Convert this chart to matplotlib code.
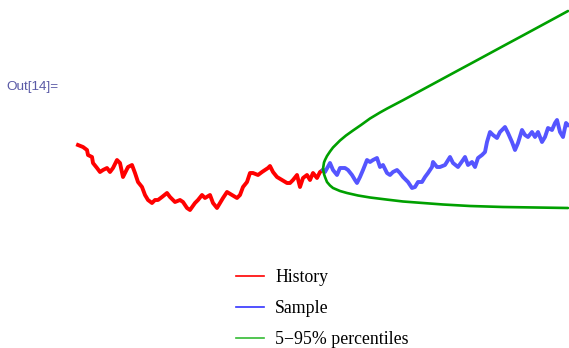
import matplotlib
matplotlib.use("Agg")
import matplotlib.pyplot as plt
from matplotlib.lines import Line2D

# observed path (time, level)
hist_t = [78, 83, 87, 88, 92, 93, 97, 100, 103, 107, 110, 113, 117, 120, 123, 125,
          128, 132, 135, 138, 142, 145, 148, 152, 155, 158, 162, 167, 170, 175, 180,
          183, 187, 190, 195, 198, 202, 205, 210, 213, 217, 220, 223, 227, 232, 237,
          240, 243, 247, 250, 253, 258, 262, 265, 268, 270, 273, 277, 282, 287, 290,
          293, 297, 300, 303, 307, 310, 313, 317, 320, 323]
hist_v = [155, 153, 150, 145, 143, 137, 132, 128, 130, 132, 128, 132, 140, 137, 123, 127,
          133, 135, 127, 118, 113, 105, 100, 97, 100, 100, 103, 107, 103, 98, 100,
          98, 92, 90, 97, 100, 105, 102, 105, 97, 92, 97, 102, 108, 105, 102,
          105, 113, 118, 127, 127, 125, 128, 130, 132, 134, 128, 123, 120, 117, 117,
          120, 125, 113, 122, 125, 120, 127, 122, 128, 130]

# one simulated continuation
samp_t = [323, 325, 330, 333, 337, 340, 345, 348, 352, 355, 357, 360, 363, 367, 370,
          373, 377, 380, 383, 387, 390, 393, 397, 400, 403, 408, 412, 415, 418, 422,
          425, 428, 432, 433, 437, 440, 445, 450, 453, 458, 463, 465, 468, 472, 475,
          478, 482, 485, 487, 490, 493, 497, 500, 505, 508, 512, 515, 518, 522, 525,
          528, 532, 535, 538, 542, 545, 548, 552, 555, 557, 560, 563, 566, 568]
samp_v = [130, 128, 137, 130, 125, 132, 132, 130, 125, 120, 117, 123, 130, 140, 138,
          140, 142, 133, 135, 127, 125, 128, 130, 127, 123, 118, 112, 113, 118, 118,
          123, 127, 133, 138, 133, 133, 135, 143, 137, 133, 140, 143, 135, 138, 133,
          142, 145, 148, 158, 168, 165, 162, 168, 173, 167, 158, 150, 157, 170, 165,
          163, 168, 163, 168, 158, 163, 172, 170, 177, 180, 168, 163, 177, 175]

# 95% percentile
hi_t = [323, 324, 325, 327, 330, 333, 337, 340, 346, 353, 361, 370, 380, 387, 403,
        420, 440, 457, 473, 490, 507, 523, 540, 557, 568]
hi_v = [131, 137.5, 140, 144, 148.5, 152.5, 156.5, 159.5, 164.5, 169.5, 175, 181.5,
        187.5, 191.4, 199.8, 209, 219.8, 229, 237.6, 246.8, 256, 264.6, 273.8, 283, 289]

# 5% percentile
lo_t = [323, 324, 325, 327, 330, 333, 340, 347, 358, 370, 387, 403, 423, 443, 470,
        503, 568]
lo_v = [131, 126, 123, 118, 114.5, 112, 109, 107, 104.5, 102.5, 100.4, 98.5, 97,
        95.5, 94, 93, 92]

labels = ["History", "Sample", "5\u221295% percentiles"]

fig = plt.figure(figsize=(5.69, 3.48), dpi=100)
ax = fig.add_axes([0, 0, 1, 1])
ax.set_xlim(0, 569)
ax.set_ylim(-48, 300)
ax.axis("off")

ax.plot(hi_t, hi_v, color="#00a000", lw=1.9, solid_capstyle="round", zorder=3)
ax.plot(lo_t, lo_v, color="#00a000", lw=1.9, solid_capstyle="round", zorder=3)
ax.plot(hist_t, hist_v, color="#ff0000", lw=2.8, zorder=2)
ax.plot(samp_t, samp_v, color="#5555ff", lw=2.8, zorder=2)

fig.text(0.012, 0.75, "Out[14]=", color="#5a5aa6", fontsize=9.7,
         family="Liberation Sans", va="center")

handles = [Line2D([], [], color="#ff0000", lw=1.2),
           Line2D([], [], color="#3333ff", lw=1.2),
           Line2D([], [], color="#33bb33", lw=1.2)]
ax.legend(handles, labels, loc="upper left", bbox_to_anchor=(0.4155, 0.227),
          frameon=False, prop={"family": "Liberation Serif", "size": 12.8},
          handlelength=1.57, handletextpad=0.6, labelspacing=0.8,
          borderpad=0, borderaxespad=0)

fig.savefig("out.png", dpi=100)
